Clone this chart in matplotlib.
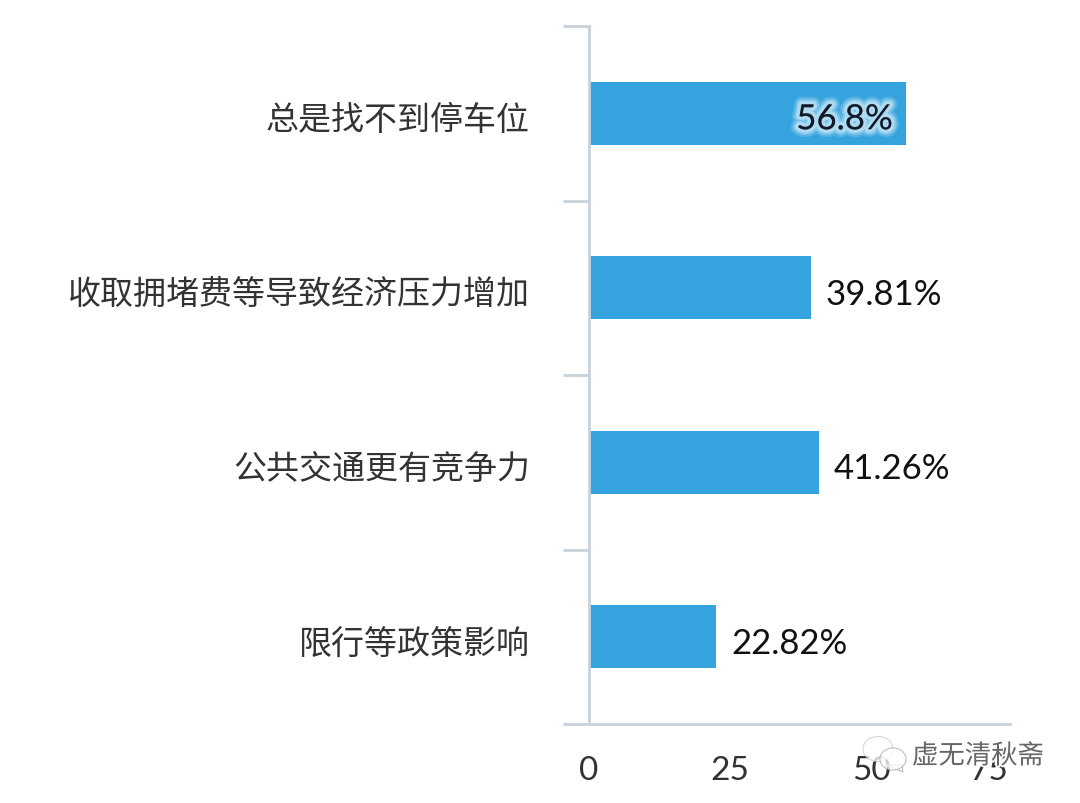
import matplotlib
matplotlib.use('Agg')
import matplotlib.pyplot as plt
import matplotlib.patheffects as pe
from matplotlib.patches import Ellipse, Polygon

plt.rcParams['font.family'] = ['Noto Sans CJK SC', 'DejaVu Sans']

categories = ['总是找不到停车位', '收取拥堵费等导致经济压力增加', '公共交通更有竞争力', '限行等政策影响']
values = [56.8, 39.81, 41.26, 22.82]
labels = ['56.8%', '39.81%', '41.26%', '22.82%']
xticks = [0, 25, 50, 75]
ypos = [0, 1, 2, 3]

W, H = 1080, 804
PX = 0.72  # points per pixel at dpi 100
GREY = '#C9D2D9'

fig = plt.figure(figsize=(10.8, 8.04), dpi=100)
ax = fig.add_axes([588.5/W, 1-725/H, (1010-588.5)/W, (725-27)/H])
ax.barh(ypos, values, height=0.361, color='#35A4DE', zorder=3)
ax.set_xlim(0, 75.5)
ax.set_ylim(3.5, -0.5)

for s in ['top', 'right']:
    ax.spines[s].set_visible(False)
for s in ['left', 'bottom']:
    ax.spines[s].set_color(GREY)
    ax.spines[s].set_linewidth(2)
    ax.spines[s].set_zorder(5)

ax.set_yticks([-0.5, 0.5, 1.5, 2.5, 3.5])
ax.set_yticklabels([])
ax.tick_params(axis='y', length=19, width=2, color=GREY)
ax.set_xticks([])

# x labels: the last one is pushed back inside the axis end
tick_dx = [0, 1.5, 4, 1]
tick_ha = ['center', 'center', 'center', 'right']
for t, dx, ha in zip(xticks, tick_dx, tick_ha):
    ax.annotate(str(t), (t, 3.5), xytext=(dx*PX, -46*PX), textcoords='offset points',
                ha=ha, va='center', fontsize=24, family='Lato', color='#333333')

for y, c in zip(ypos, categories):
    ax.annotate(c, (0, y), xytext=(-58.5*PX, -6.5*PX), textcoords='offset points',
                ha='right', va='center', fontsize=23.75, color='#333333')

# first label sits inside the bar with a pale glow
glow = [pe.withStroke(linewidth=w, foreground='#DDF0FA', alpha=a) for w, a in [(11, 0.18), (8, 0.3), (5, 0.5)]]
for y, v, l in zip(ypos, values, labels):
    if y == 0:
        ax.annotate(l, (v, y), xytext=(-13*PX, -6*PX), textcoords='offset points', ha='right', va='center',
                    fontsize=25, family='Lato', color='#0E1A2B', path_effects=glow, zorder=6)
    else:
        ax.annotate(l, (v, y), xytext=(15*PX, -6*PX), textcoords='offset points', ha='left', va='center',
                    fontsize=25, family='Lato', color='#111111')

# watermark, wechat icon plus name, on top of the tick labels
ov = fig.add_axes([0, 0, 1, 1], facecolor='none')
ov.set_xlim(0, W)
ov.set_ylim(H, 0)
ov.axis('off')
ov.add_patch(Ellipse((878, 750), 30, 25, fc='white', ec='#CCCCCC', lw=0.8, alpha=0.75))
ov.add_patch(Polygon([(886, 766), (902, 766), (903, 773)], fc='white', ec='#BBBBBB', lw=0.8))
ov.add_patch(Ellipse((893, 760), 26, 22, fc='white', ec='#AAAAAA', lw=0.8, alpha=0.75))
ov.text(912, 757, '虚无清秋斋', ha='left', va='center', fontsize=19, color='#666666',
        path_effects=[pe.withStroke(linewidth=2.5, foreground='white')])

fig.savefig('out.png', dpi=100)
